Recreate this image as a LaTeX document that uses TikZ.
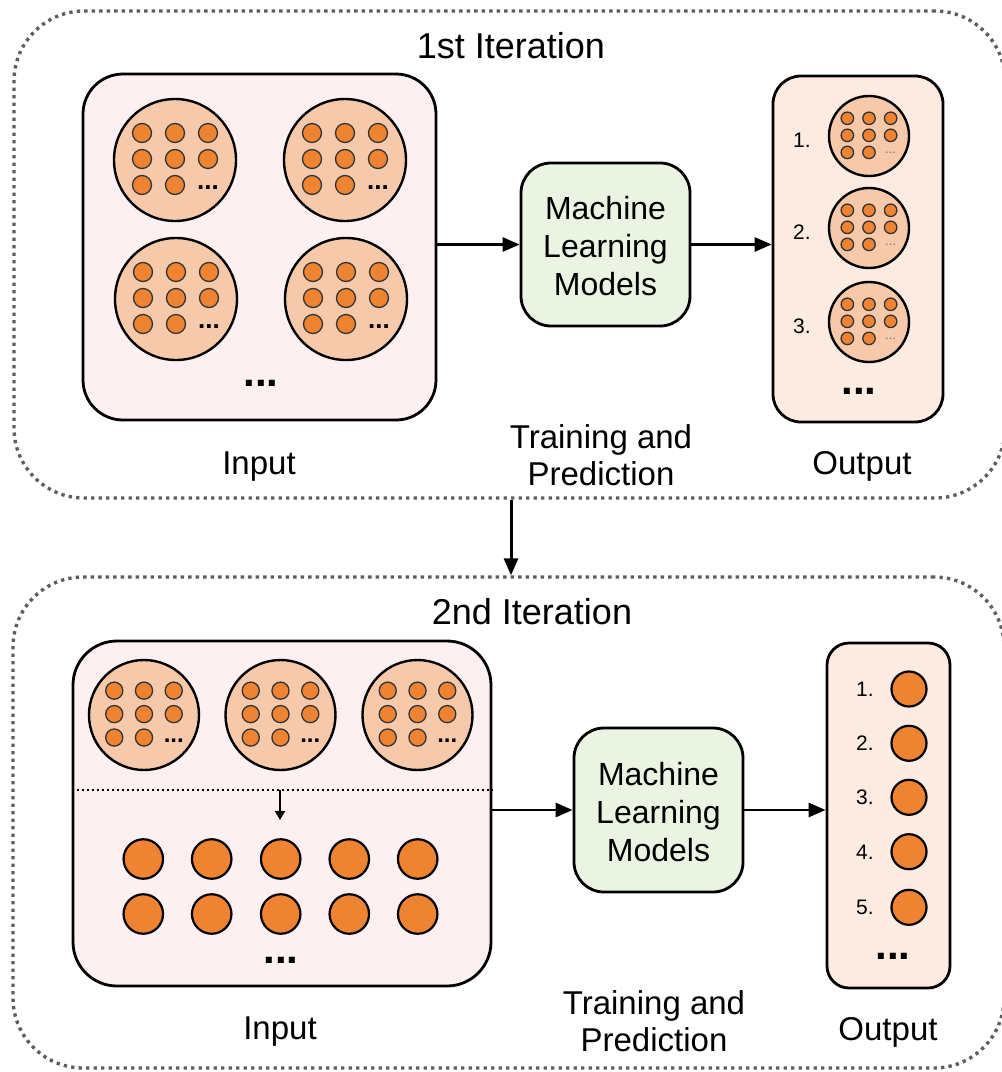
\documentclass[tikz,border=0pt]{standalone}
\usepackage{fontspec}
\setmainfont{Liberation Sans}
\usetikzlibrary{arrows.meta,calc}
\definecolor{inbg}{HTML}{FCF0F1}
\definecolor{mlbg}{HTML}{EBF3E2}
\definecolor{outbg}{HTML}{FBEBE0}
\definecolor{peach}{HTML}{F6C9AA}
\definecolor{orng}{HTML}{EE8432}
\definecolor{framegray}{HTML}{5E5E5E}
\tikzset{
  iterframe/.style={draw=framegray, line width=3.4pt, dash pattern=on 3.3pt off 4.2pt, rounded corners=70pt, inner sep=0},
  panel/.style={draw=black, line width=2.8pt, inner sep=0},
  bigcirc/.style={circle, draw=black, line width=2.4pt, fill=peach, inner sep=0},
  smalldot/.style={circle, draw=black!80, line width=1.3pt, fill=orng, inner sep=0},
  bigdot/.style={circle, draw=black, line width=2.2pt, fill=orng, inner sep=0},
  lbl/.style={font=\fontsize{33}{37}\selectfont, inner sep=0, anchor=base},
  twolbl/.style={font=\fontsize{33}{37}\selectfont, inner sep=0, align=center},
  mltext/.style={font=\fontsize{32}{38}\selectfont, align=center},
  titlelbl/.style={font=\fontsize{36}{36}\selectfont, inner sep=0, anchor=base},
  numlbl/.style={font=\fontsize{21}{21}\selectfont, inner sep=0, anchor=base},
  bigdots/.style={font=\fontsize{42}{42}\selectfont\bfseries, inner sep=0},
  celldotsA/.style={font=\fontsize{26}{26}\selectfont\bfseries, inner sep=0},
  celldotsB/.style={font=\fontsize{24}{24}\selectfont\bfseries, inner sep=0},
  tinydots/.style={font=\fontsize{13}{13}\selectfont, text=black!55, inner sep=0},
  arr/.style={line width=2.8pt, -{Triangle[length=17pt,width=14pt]}},
  smallarr/.style={line width=1.6pt, -{Triangle[length=9pt,width=10pt]}},
  sepline/.style={draw=black, line width=2pt, dash pattern=on 2.5pt off 2.5pt},
}
\newcommand\mycluster[6]{%
  \node[bigcirc, minimum size={122*#4}] (#1) at (#2,#3) {};
  \foreach \i/\j in {0/0,1/0,2/0,0/1,1/1,2/1,0/2,1/2}{%
    \node[smalldot, minimum size={19*#4}] (#1-\i\j) at ({#2+(\i-1)*33*#4},{#3+((\j-1)*26-1)*#4}) {};
  }
  \node[#5] (#1-e) at ({#2+33*#4},{#3+(25+#6)*#4}) {...};
}
\begin{document}
\begin{tikzpicture}[x=1pt,y=-1pt]
\useasboundingbox (0,0) rectangle (1002,1072);
\clip (0,0) rectangle (1002,1072);
% iteration frames
\node[iterframe, minimum width=991, minimum height=487] (it1) at (509.5,254.5) {};
\node[iterframe, minimum width=991, minimum height=491] (it2) at (508.5,822.5) {};
\node[titlelbl] (t1) at (511,58) {1st Iteration};
\node[titlelbl] (t2) at (532,624) {2nd Iteration};
% ---------- first iteration ----------
\node[panel, fill=inbg, rounded corners=40pt, minimum width=353, minimum height=346] (in1) at (259.5,247) {};
\mycluster{in1a}{175}{160}{1}{celldotsA}{3}
\mycluster{in1b}{345}{160}{1}{celldotsA}{3}
\mycluster{in1c}{176}{299}{1}{celldotsA}{3}
\mycluster{in1d}{346}{299}{1}{celldotsA}{3}
\node[bigdots] (in1e) at (261,383) {...};
\node[panel, fill=mlbg, rounded corners=30pt, minimum width=169, minimum height=163] (ml1) at (605.5,244.5) {};
\node[mltext] (ml1t) at (605.5,246) {Machine\\Learning\\Models};
\node[panel, fill=outbg, rounded corners=28pt, minimum width=170, minimum height=346] (out1) at (858,249) {};
\mycluster{o1a}{869}{136}{0.656}{tinydots}{0}
\mycluster{o1b}{869}{228}{0.656}{tinydots}{0}
\mycluster{o1c}{869}{322}{0.656}{tinydots}{0}
\node[numlbl] (o1n1) at (802,147) {1.};
\node[numlbl] (o1n2) at (802,239) {2.};
\node[numlbl] (o1n3) at (802,333) {3.};
\node[bigdots] (out1e) at (859,391) {...};
\draw[arr] (in1.east |- ml1.west) -- (ml1.west);
\draw[arr] (ml1.east) -- (ml1.east -| out1.west);
\node[lbl] (lin1) at (259,474) {Input};
\node[twolbl] (ltp1) at (601,455) {Training and\\Prediction};
\node[lbl] (lout1) at (862,474) {Output};
% arrow between iterations
\draw[arr, line width=3pt] ([xshift=1.5pt]it1.south) -- ([xshift=2.5pt]it2.north);
% ---------- second iteration ----------
\node[panel, fill=inbg, rounded corners=44pt, minimum width=418, minimum height=345] (in2) at (282,813.5) {};
\mycluster{in2a}{144}{715}{0.9016}{celldotsB}{3}
\mycluster{in2b}{280.5}{715}{0.9016}{celldotsB}{3}
\mycluster{in2c}{417.5}{715}{0.9016}{celldotsB}{3}
\coordinate (sepL) at (in2.west |- 0,790);
\coordinate (sepR) at (in2.east |- 0,790);
\draw[sepline] (sepL) -- (sepR);
\coordinate (sa1) at (280,790);
\coordinate (sa2) at (280,820);
\draw[smallarr] (sa1) -- (sa2);
\foreach \c/\xx in {1/143.3,2/211.7,3/280.7,4/349.3,5/417.7}{
  \node[bigdot, minimum size=39.5] (r1\c) at (\xx,859) {};
  \node[bigdot, minimum size=39.5] (r2\c) at (\xx,914) {};
}
\node[bigdots] (in2e) at (281,960) {...};
\node[panel, fill=mlbg, rounded corners=30pt, minimum width=169, minimum height=164] (ml2) at (658.5,810) {};
\node[mltext] (ml2t) at (658.5,812) {Machine\\Learning\\Models};
\node[panel, fill=outbg, rounded corners=22pt, minimum width=123, minimum height=345] (out2) at (888.5,815.5) {};
\foreach \k/\yy in {1/689,2/743.3,3/797.3,4/851.7,5/907.3}{
  \node[bigdot, minimum size=35] (o2d\k) at (909,\yy) {};
  \node[numlbl] (o2n\k) at (865,{\yy+7.5}) {\k.};
}
\node[bigdots] (out2e) at (893,956) {...};
\draw[arr] (in2.east |- ml2.west) -- (ml2.west);
\draw[arr] (ml2.east) -- (ml2.east -| out2.west);
\node[lbl] (lin2) at (280,1039) {Input};
\node[twolbl] (ltp2) at (654,1021) {Training and\\Prediction};
\node[lbl] (lout2) at (888,1040) {Output};
\end{tikzpicture}
\end{document}
